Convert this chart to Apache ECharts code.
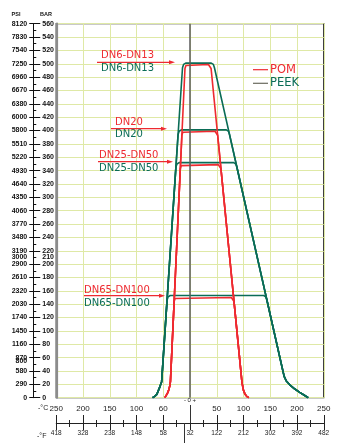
<!DOCTYPE html>
<html><head><meta charset="utf-8">
<script src="https://cdn.jsdelivr.net/npm/echarts@6/dist/echarts.min.js"></script>
<style>html,body{margin:0;padding:0;background:#fff}#c{width:341px;height:443px}</style>
</head><body><div id="c"></div>
<script>
// ---- data ----
// pressure ruler (bar) and the matching psi labels
const barLabelValues = [0,20,40,60,80,100,120,140,160,180,200,210,220,240,260,280,300,320,340,360,380,400,420,440,460,480,500,520,540,560];
const psiValues = [0,20,40,55,60,80,100,120,140,160,180,200,210,220,240,260,280,300,320,340,360,380,400,420,440,460,480,500,520,540,560];
const psiLabels = ['0','290','580','800','870','1160','1450','1740','2030','2320','2610','2900','3000','3190','3480','3770','4060','4350','4640','4930','5220','5510','5800','6000','6380','6670','6960','7250','7540','7830','8120'];
// temperature scale
const celsiusTicks = [-250,-200,-150,-100,-50,0,50,100,150,200,250];
const celsiusLabels = ['250','200','150','100','60','','50','100','150','200','250'];
const fahrenheitLabels = ['418','328','238','148','58','32','122','212','302','392','482'];

// POM (red) curves: [°C, bar]
const pomTailLeft  = [[-47,0],[-45,2],[-42.5,6],[-40,11],[-38,17],[-36.6,24]];
const pomTailRight = [[97,24],[98.5,17],[100,11],[103,5],[106,2],[110,0]];
const pomDN6  = [[-9.4,493],[-7.6,497.5],[-4.4,499],[34.4,499],[37.6,497.5],[39.4,493]];
const pomDN20 = [[-15.2,393],[-13.4,397.5],[-10.2,399],[46.7,399],[49.9,397.5],[51.7,393]];
const pomDN25 = [[-18.1,343],[-16.3,347.5],[-13.1,349],[52.8,349],[56,347.5],[57.8,343]];
const pomDN65 = [[-29.6,144],[-27.8,148.5],[-24.6,150],[77.3,150],[80.5,148.5],[82.3,144]];

// PEEK (green) curves: [°C, bar]
const peekTailLeft  = [[-70,0],[-66,2],[-62,5],[-59,11],[-56,17],[-53,24]];
const peekTailRight = [[173.4,41],[176,32],[180,25],[187,19],[196,13],[205,8],[213,4],[221,0]];
const peekDN6  = [[-14,494],[-12,499],[-8,501],[39.7,501],[43.7,499],[45.7,494]];
const peekDN20 = [[-22.3,394],[-20.3,399],[-16.3,401],[67.9,401],[71.9,399],[73.9,394]];
const peekDN25 = [[-26.4,345],[-24.4,350],[-20.4,352],[81.7,352],[85.7,350],[87.7,345]];
const peekDN65 = [[-42.9,146],[-40.9,151],[-36.9,153],[137.8,153],[141.8,151],[143.8,146]];

const dnNames = ['DN6-DN13','DN20','DN25-DN50','DN65-DN100'];

// ---- styling ----
const RED = '#ee2a30', GREEN = '#0a6c56', GRIDC = '#dfe9a6';
const F = 'Liberation Sans, Arial, sans-serif';
const FD = 'DejaVu Sans, sans-serif';

function curve(tl, top, tr){ return tl.concat(top, tr); }
function lineSeries(name, data, color, z){
  return {name, type:'line', xAxisIndex:0, yAxisIndex:0, data, showSymbol:false, symbol:'none',
    lineStyle:{color, width:1.6}, itemStyle:{color}, z, animation:false, silent:true};
}
const series = [];
[peekDN6,peekDN20,peekDN25,peekDN65].forEach((t,i)=>series.push(lineSeries('PEEK '+dnNames[i], curve(peekTailLeft,t,peekTailRight), GREEN, 3)));
[pomDN6,pomDN20,pomDN25,pomDN65].forEach((t,i)=>series.push(lineSeries('POM '+dnNames[i], curve(pomTailLeft,t,pomTailRight), RED, 4)));
series[0].markLine = {silent:true, symbol:['none','none'], label:{show:false}, animation:false,
  lineStyle:{color:'#5a5a5a', width:1.5, type:'solid'}, data:[{xAxis:0}]};

const cLab = v => { const i = celsiusTicks.indexOf(Math.round(v)); return i<0?'':celsiusLabels[i]; };
const fLab = v => { const i = celsiusTicks.indexOf(Math.round(v)); return i<0?'':fahrenheitLabels[i]; };
const pLab = v => { const i = psiValues.indexOf(Math.round(v)); return i<0?'':psiLabels[i]; };

const G = {left:56.25, right:17.25, top:23.7, bottom:45.3};
const xBase = {type:'value', gridIndex:0, min:-250, max:250, interval:50, position:'bottom'};
const yBase = {type:'value', gridIndex:0, min:0, max:560, interval:20, position:'left'};

const option = {
  animation:false,
  grid:{...G, show:true, borderColor:'#2a2a2a', borderWidth:1.3, backgroundColor:'#fff', containLabel:false},
  xAxis:[
    {...xBase, axisLine:{show:false, onZero:false}, axisTick:{show:false}, axisLabel:{show:false},
      splitLine:{show:true, lineStyle:{color:GRIDC, width:1}}},
    {...xBase, offset:25.3, axisLine:{show:true, onZero:false, lineStyle:{color:'#222', width:1}},
      axisTick:{show:true, inside:true, length:8, lineStyle:{color:'#222'}},
      minorTick:{show:true, splitNumber:2, length:3, lineStyle:{color:'#222'}},
      axisLabel:{show:true, inside:true, margin:10, formatter:cLab, fontSize:8, color:'#222', fontFamily:F},
      splitLine:{show:false}},
    {...xBase, offset:25.3, axisLine:{show:false, onZero:false},
      axisTick:{show:true, inside:false, length:7, lineStyle:{color:'#222'}},
      minorTick:{show:true, splitNumber:2, length:4, lineStyle:{color:'#222'}},
      axisLabel:{show:true, margin:7, formatter:fLab, fontSize:6.5, color:'#222', fontFamily:F},
      splitLine:{show:false}},
    {...xBase, offset:25.3, axisLine:{show:false, onZero:false},
      axisTick:{show:true, inside:true, length:18, customValues:[0], lineStyle:{color:'#333'}},
      axisLabel:{show:false}, splitLine:{show:false}},
    {...xBase, offset:25.3, axisLine:{show:false, onZero:false},
      axisTick:{show:true, inside:false, length:25, customValues:[-10], lineStyle:{color:'#333'}},
      axisLabel:{show:false}, splitLine:{show:false}}
  ],
  yAxis:[
    {...yBase, axisLine:{show:true, onZero:false, lineStyle:{color:'#8c8c8c', width:2.2}}, axisTick:{show:false},
      axisLabel:{show:false}, splitLine:{show:true, lineStyle:{color:GRIDC, width:1}}},
    {...yBase, offset:23, axisLine:{show:true, onZero:false, lineStyle:{color:'#111', width:1}},
      axisTick:{show:true, inside:true, length:7, lineStyle:{color:'#111'}},
      axisLabel:{show:true, inside:true, margin:9, customValues:barLabelValues, hideOverlap:false,
        fontSize:7, fontWeight:'bold', color:'#111', fontFamily:F},
      splitLine:{show:false}},
    {...yBase, offset:23, axisLine:{show:false, onZero:false},
      axisTick:{show:true, inside:false, length:4, lineStyle:{color:'#111'}},
      axisLabel:{show:true, margin:6, customValues:psiValues, formatter:pLab, hideOverlap:false,
        fontSize:7, fontWeight:'bold', color:'#111', fontFamily:F},
      splitLine:{show:false}},
    {...yBase, interval:10, offset:23, axisLine:{show:false, onZero:false},
      axisTick:{show:true, inside:true, length:3, lineStyle:{color:'#111'}},
      axisLabel:{show:false}, splitLine:{show:false}}
  ],
  series,
  graphic:[]
};

// annotations (labels, arrows, legend)
const g = option.graphic;
function txt(text, x, y, color, font, align){
  g.push({type:'text', silent:true, z:10, style:{text, x, y, fill:color, font, textAlign:align||'left', textVerticalAlign:'middle'}});
}
function arrow(x1, x2, y){
  g.push({type:'line', silent:true, z:10, shape:{x1, y1:y, x2:x2-4, y2:y}, style:{stroke:RED, lineWidth:1.2}});
  g.push({type:'polygon', silent:true, z:10, shape:{points:[[x2,y],[x2-6,y-2],[x2-6,y+2]]}, style:{fill:RED}});
}
const lab = [
  {x:101, yr:55, yg:68.5, ya:62.3, ax1:97, ax2:175},
  {x:115, yr:122.3, yg:134.5, ya:128.7, ax1:111, ax2:167},
  {x:99, yr:155, yg:168.5, ya:161.7, ax1:98, ax2:173},
  {x:84, yr:290, yg:303.5, ya:295.7, ax1:84, ax2:165}
];
lab.forEach((p,i)=>{
  txt(dnNames[i], p.x, p.yr, RED, '10px '+FD);
  txt(dnNames[i], p.x, p.yg, GREEN, '10px '+FD);
  arrow(p.ax1, p.ax2, p.ya);
});
// legend
g.push({type:'line', silent:true, shape:{x1:253, y1:69.7, x2:268, y2:69.7}, style:{stroke:RED, lineWidth:1.2}});
g.push({type:'line', silent:true, shape:{x1:253, y1:83.3, x2:268, y2:83.3}, style:{stroke:'#6a6a5e', lineWidth:1.2}});
txt('POM', 270, 70, RED, '11.5px '+FD);
txt('PEEK', 270, 83.5, GREEN, '11.5px '+FD);
// ruler headers and unit marks
txt('PSI', 16, 14, '#111', 'bold 5.5px '+F, 'center');
txt('BAR', 46, 14, '#111', 'bold 5.5px '+F, 'center');
txt('-°C', 38, 408, '#222', '7px '+F);
txt('-°F', 37, 436, '#222', '7px '+F);
txt('- 0 +', 190, 400.7, '#222', '6px '+F, 'center');

const chart = echarts.init(document.getElementById('c'), null, {renderer:'canvas'});
chart.setOption(option);
</script></body></html>
